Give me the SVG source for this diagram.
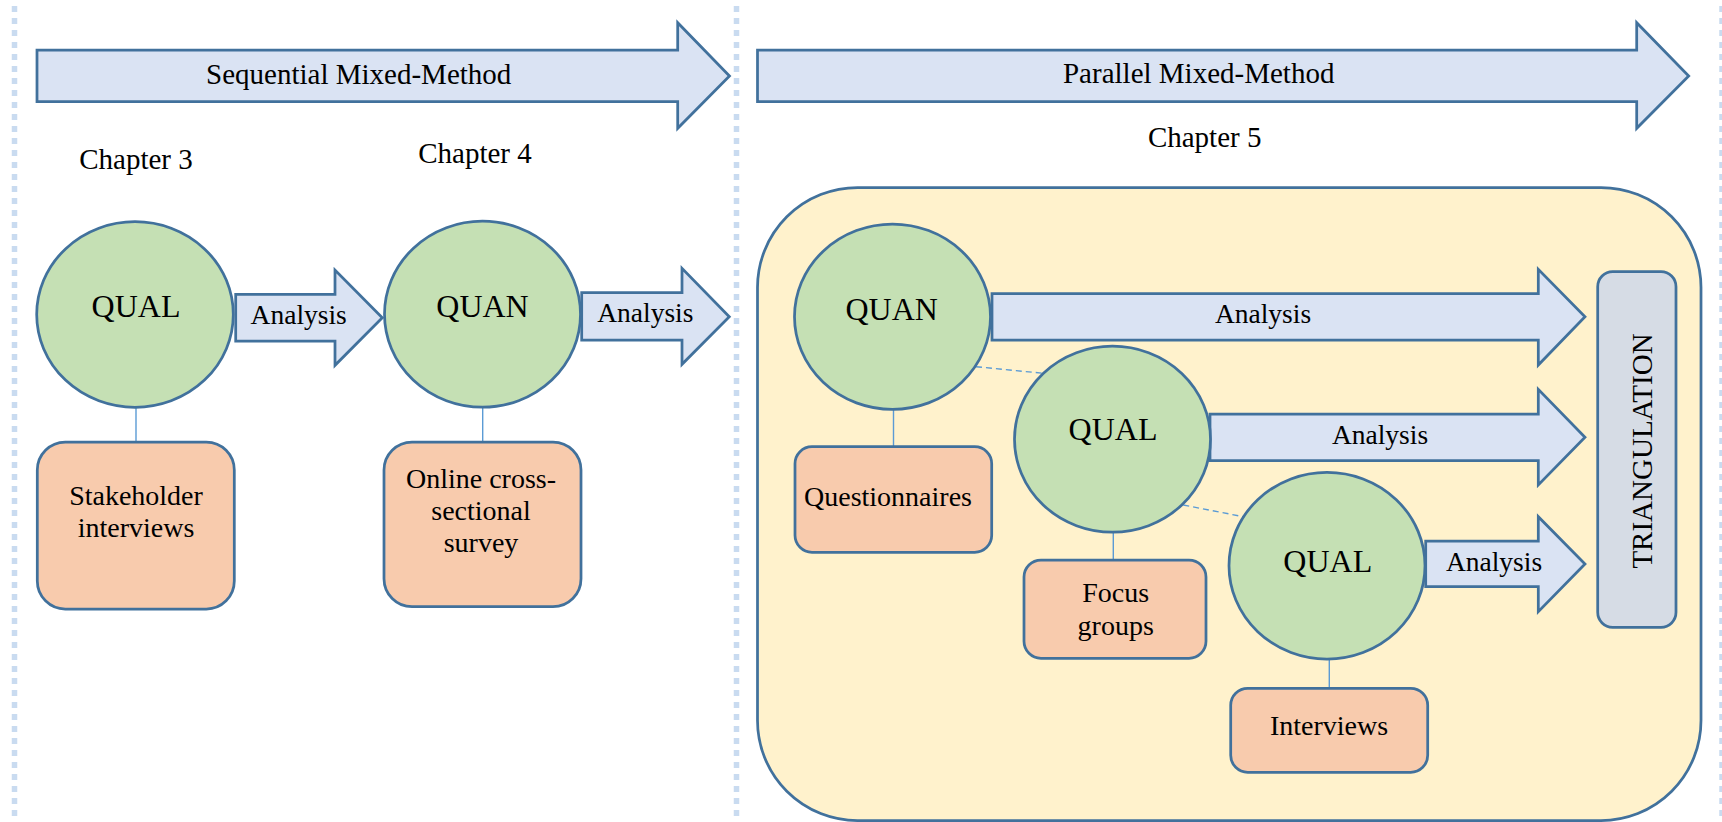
<svg xmlns="http://www.w3.org/2000/svg" width="1722" height="822" viewBox="0 0 1722 822">
  <style>
    .sep { stroke: #c9dbf0; stroke-width: 5.5; stroke-dasharray: 6 6; fill: none; }
    .band { fill: #dae3f3; stroke: #41719c; stroke-width: 2.75; stroke-linejoin: miter; }
    .flow { fill: #dae3f3; stroke: #41719c; stroke-width: 2.75; stroke-linejoin: miter; }
    .method { fill: #c5e0b4; stroke: #41719c; stroke-width: 2.75; }
    .source { fill: #f8cbad; stroke: #41719c; stroke-width: 2.75; }
    .frame { fill: #fff2cc; stroke: #41719c; stroke-width: 2.75; }
    .tri { fill: #d6dce5; stroke: #41719c; stroke-width: 2.75; }
    .link { stroke: #5b9bd5; stroke-width: 1.4; fill: none; }
    .dlink { stroke: #5b9bd5; stroke-width: 1.4; stroke-dasharray: 6 4; fill: none; }
    text { font-family: "Liberation Serif", "Times New Roman", serif; fill: #000; text-anchor: middle; }
    .t29 { font-size: 29px; }
    .t32 { font-size: 32px; }
    .t28 { font-size: 28px; }
    .ta { font-size: 27.5px; }
  </style>

  <!-- section separators -->
  <g id="separators">
    <line class="sep" x1="14.5" y1="6" x2="14.5" y2="822"/>
    <line class="sep" x1="736.5" y1="6" x2="736.5" y2="822"/>
    <line class="sep" x1="1722" y1="6" x2="1722" y2="822"/>
  </g>

  <!-- phase banners -->
  <g id="banner-sequential">
    <path class="band" d="M37,50 H677.7 V22.7 L729.5,76 L677.7,128.3 V101.7 H37 Z"/>
    <text class="t29" x="358.7" y="83.5">Sequential Mixed-Method</text>
  </g>
  <g id="banner-parallel">
    <path class="band" d="M757.5,50 H1636.7 V22.7 L1688.7,76 L1636.7,128.3 V101.7 H757.5 Z"/>
    <text class="t29" x="1198.7" y="83">Parallel Mixed-Method</text>
  </g>

  <!-- chapter labels -->
  <g id="chapter-labels">
    <text class="t29" x="136" y="169">Chapter 3</text>
    <text class="t29" x="475" y="163.3">Chapter 4</text>
    <text class="t29" x="1204.7" y="146.7">Chapter 5</text>
  </g>

  <!-- parallel phase container -->
  <g id="parallel-frame">
    <rect class="frame" x="757.5" y="187.5" width="943.5" height="633" rx="100" ry="100"/>
  </g>

  <!-- connectors -->
  <g id="connectors">
    <path id="seq-analysis-1" class="flow" d="M235.7,294.3 H335 V270 L382.3,317.7 L335,365.3 V341 H235.7 Z"/>
    <text class="ta" x="298.7" y="324">Analysis</text>
    <path id="seq-analysis-2" class="flow" d="M581.7,292.7 H682 V268.3 L729.3,316.7 L682,364.3 V340 H581.7 Z"/>
    <text class="ta" x="645.3" y="321.7">Analysis</text>
    <path id="par-analysis-quan" class="flow" d="M992,293.5 H1538.3 V269.3 L1585,316.7 L1538.3,365 V340 H992 Z"/>
    <text class="ta" x="1263" y="323.3">Analysis</text>
    <path id="par-analysis-qual-1" class="flow" d="M1210,414 H1538.3 V389.3 L1585,437.3 L1538.3,485 V460.7 H1210 Z"/>
    <text class="ta" x="1380" y="444">Analysis</text>
    <path id="par-analysis-qual-2" class="flow" d="M1425.7,541 H1538.3 V516.7 L1585,564 L1538.3,611.7 V586.7 H1425.7 Z"/>
    <text class="ta" x="1494" y="570.7">Analysis</text>

    <line class="link" x1="136" y1="407" x2="136" y2="442"/>
    <line class="link" x1="482.7" y1="407" x2="482.7" y2="442"/>
    <line class="link" x1="893.5" y1="409" x2="893.5" y2="446.7"/>
    <line class="link" x1="1113.3" y1="532" x2="1113.3" y2="560"/>
    <line class="link" x1="1329.3" y1="659" x2="1329.3" y2="688.3"/>
    <line class="dlink" x1="976" y1="366.7" x2="1043.3" y2="373.3"/>
    <line class="dlink" x1="1183.3" y1="505" x2="1243.3" y2="516.7"/>
  </g>

  <!-- sequential phase -->
  <g id="qual-ch3">
    <ellipse class="method" cx="135" cy="314.5" rx="98.3" ry="92.8"/>
    <text class="t32" x="136" y="317.3">QUAL</text>
  </g>
  <g id="stakeholder-interviews">
    <rect class="source" x="37.3" y="442" width="197" height="167" rx="28" ry="28"/>
    <text class="t28" x="136" y="505">Stakeholder</text>
    <text class="t28" x="136" y="537.3">interviews</text>
  </g>
  <g id="quan-ch4">
    <ellipse class="method" cx="482.5" cy="314.2" rx="98" ry="93"/>
    <text class="t32" x="482.5" y="316.7">QUAN</text>
  </g>
  <g id="online-survey">
    <rect class="source" x="384" y="442" width="197" height="164.7" rx="28" ry="28"/>
    <text class="t28" x="481" y="488.3">Online cross-</text>
    <text class="t28" x="481" y="520">sectional</text>
    <text class="t28" x="481" y="551.7">survey</text>
  </g>

  <!-- parallel phase -->
  <g id="quan-ch5">
    <ellipse class="method" cx="892.5" cy="316.7" rx="98" ry="92.7"/>
    <text class="t32" x="891.7" y="320">QUAN</text>
  </g>
  <g id="questionnaires">
    <rect class="source" x="795" y="446.7" width="196.7" height="105.6" rx="17" ry="17"/>
    <text class="t28" x="888" y="506">Questionnaires</text>
  </g>
  <g id="qual-focus">
    <ellipse class="method" cx="1112.5" cy="439.2" rx="98" ry="93"/>
    <text class="t32" x="1113" y="440">QUAL</text>
  </g>
  <g id="focus-groups">
    <rect class="source" x="1024" y="560" width="182" height="98.3" rx="17" ry="17"/>
    <text class="t28" x="1115.7" y="601.7">Focus</text>
    <text class="t28" x="1115.7" y="635">groups</text>
  </g>
  <g id="qual-interviews">
    <ellipse class="method" cx="1327" cy="565.7" rx="98" ry="93.3"/>
    <text class="t32" x="1327.8" y="571.7">QUAL</text>
  </g>
  <g id="interviews">
    <rect class="source" x="1230.7" y="688.3" width="197" height="84" rx="17" ry="17"/>
    <text class="t28" x="1329" y="735">Interviews</text>
  </g>
  <g id="triangulation">
    <rect class="tri" x="1597.7" y="271.7" width="78.3" height="355.6" rx="15" ry="15"/>
    <text class="t29" transform="translate(1651.7,451) rotate(-90)" x="0" y="0">TRIANGULATION</text>
  </g>
</svg>
